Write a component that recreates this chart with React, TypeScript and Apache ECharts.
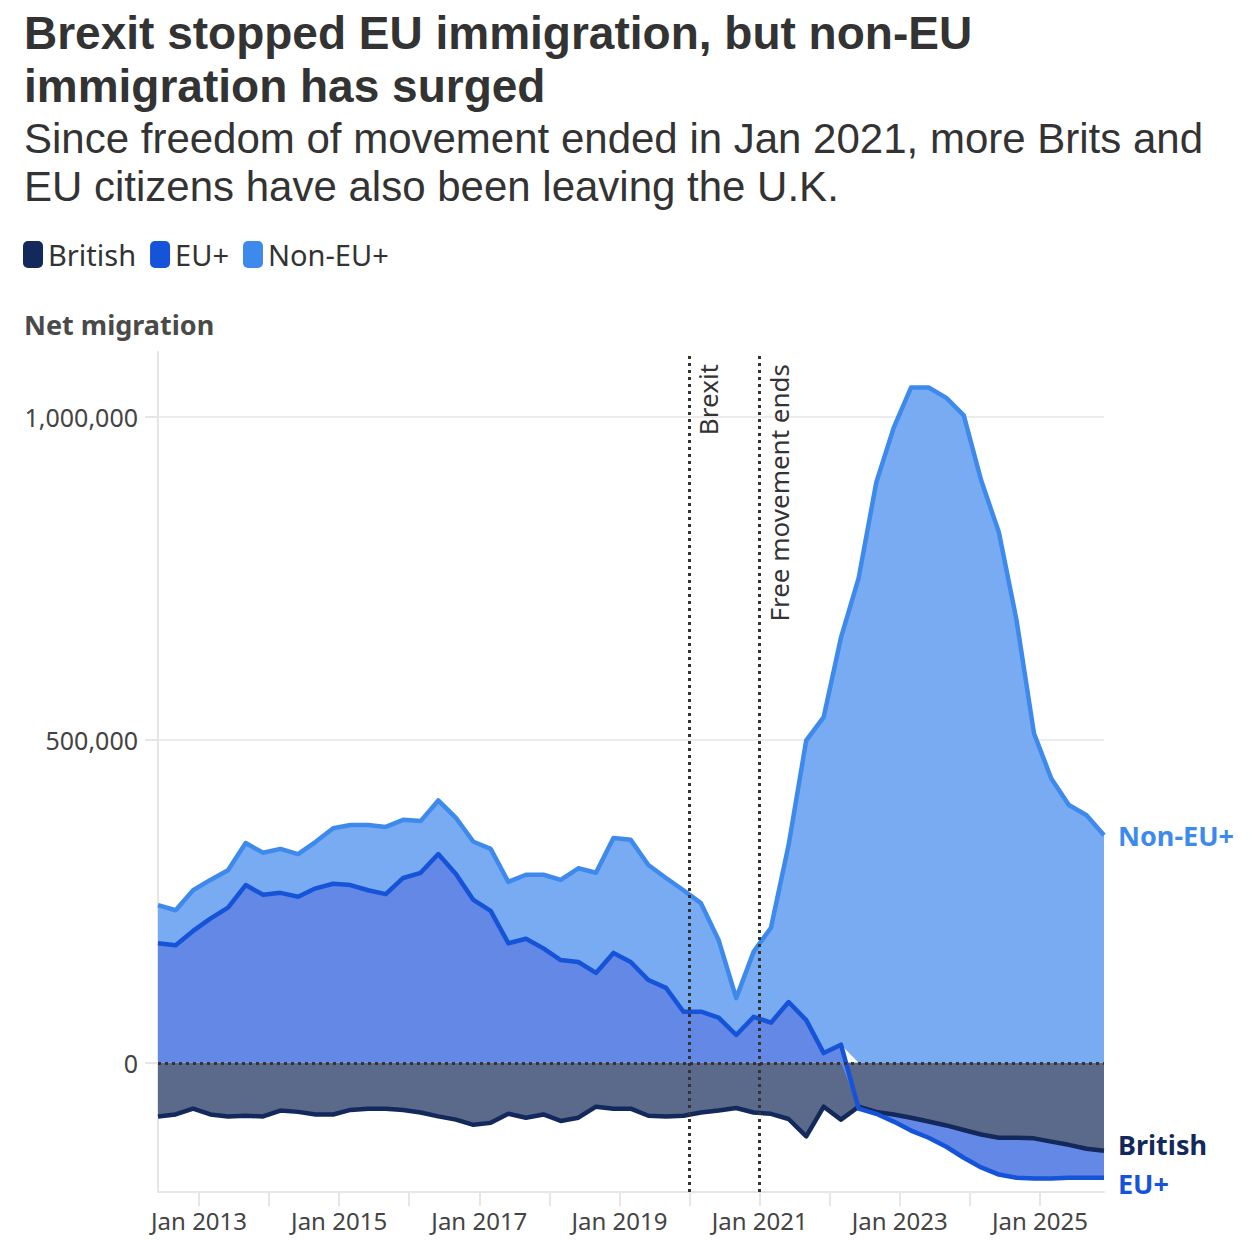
import React, { useEffect, useRef } from 'react';
import * as echarts from 'echarts';

const FONT = '"Noto Sans", "DejaVu Sans", sans-serif';
const TITLE_FONT = '"Liberation Sans", "Noto Sans", sans-serif';

// Quarter-end months (year ending)
const quarters = [
  '2012-06', '2012-09', '2012-12',
  '2013-03', '2013-06', '2013-09', '2013-12',
  '2014-03', '2014-06', '2014-09', '2014-12',
  '2015-03', '2015-06', '2015-09', '2015-12',
  '2016-03', '2016-06', '2016-09', '2016-12',
  '2017-03', '2017-06', '2017-09', '2017-12',
  '2018-03', '2018-06', '2018-09', '2018-12',
  '2019-03', '2019-06', '2019-09', '2019-12',
  '2020-03', '2020-06', '2020-09', '2020-12',
  '2021-03', '2021-06', '2021-09', '2021-12',
  '2022-03', '2022-06', '2022-09', '2022-12',
  '2023-03', '2023-06', '2023-09', '2023-12',
  '2024-03', '2024-06', '2024-09', '2024-12',
  '2025-03', '2025-06', '2025-09', '2025-12',
];

// Net migration, thousands
const british = [
  -83, -80, -71,
  -80, -83, -82, -83,
  -74, -76, -80, -80,
  -73, -71, -71, -73,
  -77, -83, -88, -96,
  -93, -79, -85, -80,
  -90, -85, -68, -71,
  -71, -82, -83, -82,
  -77, -74, -70, -77,
  -79, -87, -114, -68,
  -88, -68, -76, -80,
  -85, -91, -97, -104,
  -111, -116, -116, -117,
  -122, -127, -133, -136,
];

const euPlus = [
  185, 182, 204,
  223, 240, 275, 260,
  263, 257, 270, 277,
  275, 267, 261, 286,
  294, 323, 292, 252,
  235, 185, 192, 177,
  159, 156, 139, 170,
  156, 128, 116, 79,
  79, 70, 43, 71,
  62, 94, 66, 15,
  28, -3, -3, -11,
  -20, -25, -33, -43,
  -51, -57, -62, -62,
  -57, -51, -45, -42,
];

const nonEuPlus = [
  59, 54, 63,
  60, 58, 65, 65,
  68, 66, 72, 86,
  93, 101, 104, 90,
  80, 83, 87, 90,
  96, 95, 99, 114,
  124, 145, 155, 178,
  189, 178, 170, 188,
  168, 120, 57, 101,
  147, 243, 433, 520,
  630, 750, 898, 983,
  1045, 1045, 1029, 1002,
  901, 821, 685, 510,
  440, 399, 383, 352,
];

const yLabelValues = [0, 500000, 1000000];
const xLabelYears = [2013, 2015, 2017, 2019, 2021, 2023, 2025];
const eventDates = ['2020-01', '2021-01'];
const eventLabels = ['Brexit', 'Free movement ends'];

const seriesNames = ['British', 'EU+', 'Non-EU+'];
const lineColors = ['#13295b', '#1553d9', '#3e8aec'];
const areaColors = ['#5b6a8a', '#6388e5', '#79abf2'];

const YEAR_MS = 365.25 * 24 * 3600 * 1000;

const toTs = (q: string) => {
  const [y, m] = q.split('-').map(Number);
  return new Date(y, m - 1, 1).getTime();
};

const build = (vals: number[]) => quarters.map((q, i) => [toTs(q), vals[i] * 1000]);

export default function App() {
  const ref = useRef<HTMLDivElement>(null);

  useEffect(() => {
    document.body.style.margin = '0';
    if (!ref.current) return;
    const chart = echarts.init(ref.current, undefined, { renderer: 'svg' });

    const allVals = [british, euPlus, nonEuPlus];

    const areaSeries = allVals.map((vals, i) => ({
      type: 'line',
      name: seriesNames[i],
      data: build(vals),
      stack: 'areas',
      symbol: 'none',
      color: lineColors[i],
      lineStyle: { width: 0, opacity: 0 },
      areaStyle: { color: areaColors[i], opacity: 1 },
      z: 2,
      silent: true,
    }));

    const labelOffsets = [[0, -6], [0, 6], [0, 0]];

    const lineSeries = allVals.map((vals, i) => ({
      type: 'line',
      name: seriesNames[i] + ' line',
      data: build(vals),
      stack: 'lines',
      symbol: 'none',
      color: lineColors[i],
      lineStyle: { width: 4.5, color: lineColors[i], join: 'round' },
      z: 4,
      silent: true,
      endLabel: {
        show: true,
        formatter: seriesNames[i],
        color: lineColors[i],
        fontSize: 27,
        fontWeight: 'bold',
        fontFamily: FONT,
        distance: 14,
        offset: labelOffsets[i],
      },
    }));

    const markLineSeries = {
      type: 'line',
      name: 'refs',
      data: [],
      z: 5,
      silent: true,
      markLine: {
        silent: true,
        symbol: ['none', 'none'],
        animation: false,
        lineStyle: { color: '#333', type: [3, 4], width: 3 },
        data: [
          { yAxis: 0, label: { show: false } },
          ...eventDates.map((d, i) => ({
            xAxis: toTs(d),
            label: {
              show: true,
              formatter: eventLabels[i],
              position: 'insideEndBottom',
              color: '#333',
              fontSize: 26,
              fontFamily: FONT,
              distance: [12, 6],
            },
          })),
        ],
      },
    };

    chart.setOption({
      animation: false,
      textStyle: { fontFamily: FONT },
      title: [
        {
          text: 'Brexit stopped EU immigration, but non-EU\nimmigration has surged',
          subtext: 'Since freedom of movement ended in Jan 2021, more Brits and\nEU citizens have also been leaving the U.K.',
          left: 24,
          top: 6,
          padding: 0,
          itemGap: 2,
          textStyle: { fontSize: 46, fontWeight: 'bold', color: '#333', lineHeight: 53, fontFamily: TITLE_FONT },
          subtextStyle: { fontSize: 42, color: '#333', lineHeight: 48, fontFamily: TITLE_FONT },
        },
        {
          text: 'Net migration',
          left: 24,
          top: 311,
          padding: 0,
          textStyle: { fontSize: 27, fontWeight: 'bold', color: '#4a4a4a', fontFamily: FONT },
        },
      ],
      legend: {
        left: 23,
        top: 240,
        padding: 0,
        icon: 'roundRect',
        itemWidth: 20,
        itemHeight: 27,
        itemGap: 14,
        selectedMode: false,
        textStyle: { fontSize: 29, color: '#333', fontFamily: FONT },
        data: seriesNames.map((n, i) => ({ name: n, itemStyle: { color: lineColors[i] } })),
      },
      grid: { left: 158, right: 146, top: 352, bottom: 48, containLabel: false },
      xAxis: {
        type: 'time',
        min: toTs(quarters[0]),
        max: toTs(quarters[quarters.length - 1]),
        minInterval: YEAR_MS,
        maxInterval: YEAR_MS,
        axisLine: { onZero: false, lineStyle: { color: '#e6e6e6', width: 2 } },
        axisTick: {
          show: true,
          length: 14,
          lineStyle: { color: '#e6e6e6', width: 2 },
        },
        axisLabel: {
          color: '#444',
          fontSize: 24,
          fontFamily: FONT,
          margin: 16,
          showMinLabel: false,
          showMaxLabel: false,
          hideOverlap: false,
          formatter: (v: number) => {
            const d = new Date(v);
            const y = d.getFullYear();
            return d.getMonth() === 0 && xLabelYears.indexOf(y) >= 0 ? 'Jan ' + y : '';
          },
        },
        splitLine: { show: false },
      },
      yAxis: {
        type: 'value',
        min: -200000,
        max: 1100000,
        axisLine: { show: true, lineStyle: { color: '#e6e6e6', width: 2 } },
        axisTick: {
          show: true,
          length: 13,
          lineStyle: { color: '#e6e6e6', width: 2 },
          customValues: yLabelValues,
        },
        axisLabel: {
          color: '#444',
          fontSize: 25,
          fontFamily: FONT,
          margin: 20,
          customValues: yLabelValues,
          formatter: (v: number) => v.toLocaleString('en-US'),
        },
        splitLine: { show: true, lineStyle: { color: '#ececec', width: 2 } },
      },
      series: [...areaSeries, ...lineSeries, markLineSeries],
    });

    return () => chart.dispose();
  }, []);

  return <div ref={ref} style={{ width: 1250, height: 1240 }} />;
}
